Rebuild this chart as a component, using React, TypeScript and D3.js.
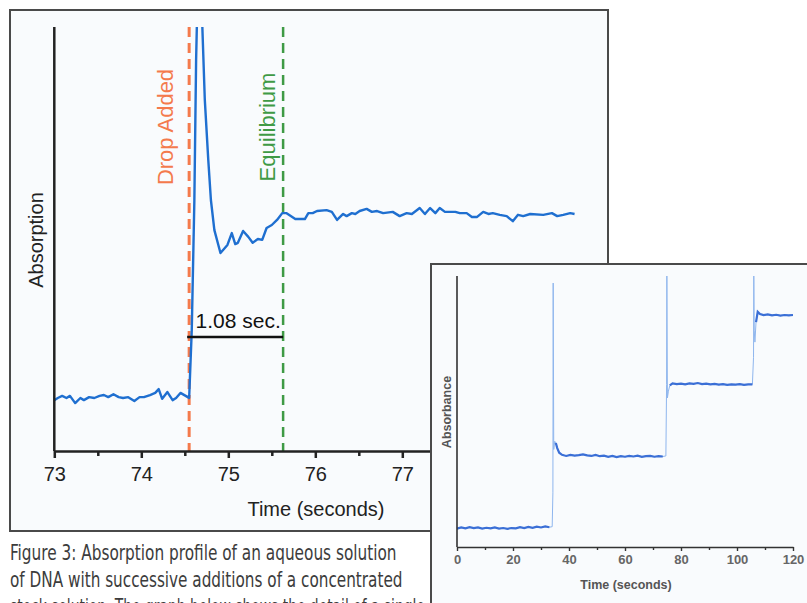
import React, { Component } from "react";
import * as d3 from "d3";

// main chart: zoom on one drop (time in seconds, absorption in arbitrary units)
const mainTime = [
	73.0, 73.04, 73.09, 73.14, 73.18, 73.24, 73.3, 73.34, 73.4, 73.46, 73.52, 73.57, 73.62, 73.68, 73.74,
	73.79, 73.85, 73.92, 73.98, 74.03, 74.1, 74.16, 74.2, 74.24, 74.3, 74.36, 74.4, 74.45, 74.51, 74.55,
	74.58, 74.61, 74.63, 74.665, 74.7, 74.73, 74.77, 74.8, 74.84, 74.91, 74.99, 75.04, 75.08, 75.11, 75.17,
	75.23, 75.28, 75.34, 75.39, 75.44, 75.5, 75.56, 75.62, 75.67, 75.77, 75.88, 75.92, 75.97, 76.02, 76.13,
	76.19, 76.25, 76.32, 76.36, 76.42, 76.46, 76.51, 76.59, 76.65, 76.71, 76.78, 76.89, 76.97, 77.05, 77.11,
	77.2, 77.26, 77.32, 77.38, 77.43, 77.49, 77.61, 77.66, 77.74, 77.8, 77.86, 77.93, 77.99, 78.04, 78.12,
	78.2, 78.27, 78.33, 78.39, 78.47, 78.62, 78.72, 78.78, 78.85, 78.93, 78.98,
];
const mainAbs = [
	12.0, 12.5, 13.0, 12.5, 13.0, 11.3, 12.5, 12.0, 12.7, 12.5, 13.0, 13.2, 12.7, 13.4, 12.7,
	12.5, 12.7, 11.8, 12.7, 12.7, 13.2, 13.7, 14.6, 12.3, 13.9, 12.0, 12.5, 13.7, 13.0, 12.5,
	28.5, 59.2, 92.2, 125, 101, 82.8, 68.6, 59.2, 52.1, 46.7, 48.6, 51.4, 48.8, 49.1, 51.9,
	50.5, 49.1, 50.0, 49.8, 52.6, 53.3, 54.5, 56.1, 56.1, 54.7, 54.7, 56.1, 56.1, 56.6, 56.8,
	56.4, 54.5, 55.9, 55.4, 56.1, 55.9, 56.6, 57.1, 56.4, 56.6, 56.1, 56.4, 55.4, 56.1, 55.9,
	57.3, 55.9, 57.3, 56.1, 57.3, 56.4, 56.4, 56.1, 56.1, 55.2, 55.2, 56.4, 55.9, 56.1, 55.7,
	55.4, 54.2, 55.7, 55.4, 55.9, 55.7, 56.1, 55.4, 55.7, 56.1, 55.9,
];
const mainTicks = [73, 74, 75, 76, 77, 78, 79];
const dropTime = 74.55;
const equilibriumTime = 75.63;
const intervalLabel = "1.08 sec.";

// inset: the whole run with three additions
const insetTime = [
	0, 1.5, 3, 4.5, 6, 7.5, 9, 10.5, 12, 13.5, 15, 16.5, 18, 19.5, 21, 22.5, 24, 25.5, 27, 28.5, 30, 31.5, 33, 34.0,
	34.25, 34.35, 34.55, 34.9, 35.3, 35.8, 36.5, 37.5, 39, 40.5, 42, 43.5, 45, 46.5, 48, 49.5, 51, 52.5, 54, 55.5,
	57, 58.5, 60, 61.5, 63, 64.5, 66, 67.5, 69, 70.5, 72, 73.5, 74.6, 74.85, 74.95, 75.15, 75.5, 76, 77, 78.5, 80,
	81.5, 83, 84.5, 86, 87.5, 89, 90.5, 92, 93.5, 95, 96.5, 98, 99.5, 101, 102.5, 104, 105.5, 105.9, 106.0, 106.15,
	106.4, 106.8, 107.4, 108.2, 109.5, 111, 112.5, 114, 115.5, 117, 118.5, 120,
];
const insetAbs = [
	6.8, 7.2, 6.9, 7.3, 7.0, 7.2, 6.8, 7.1, 6.9, 7.2, 6.8, 7.0, 6.7, 7.0, 6.9, 7.3, 7.0, 7.4, 7.1, 7.5, 7.2, 7.6, 7.3, 7.5,
	20, 97.4, 36, 39, 38.4, 36.5, 34.8, 34.0, 33.6, 34.0, 33.7, 33.9, 34.2, 33.8, 33.6, 34.0, 33.5, 33.7, 33.3, 33.6,
	33.2, 33.5, 33.3, 33.6, 33.4, 33.7, 33.3, 33.5, 33.6, 33.3, 33.5, 33.4, 33.6, 60, 100, 55, 57.5, 59.6, 60.4, 60.1, 60.3,
	60.0, 60.4, 60.2, 60.5, 60.1, 60.3, 60.0, 60.2, 59.9, 60.1, 59.8, 60.0, 59.9, 60.1, 59.8, 60.0, 60.0, 70, 100, 80,
	75.6, 83, 86.8, 86.0, 85.6, 85.8, 85.5, 85.7, 85.4, 85.6, 85.5, 85.6,
];
const insetAdditions = [34.3, 74.9, 106.0];
const insetTicks = [0, 20, 40, 60, 80, 100, 120];

const captionLines = [
	"Figure 3: Absorption profile of an aqueous solution",
	"of DNA with successive additions of a concentrated",
	"stock solution. The graph below shows the detail of a single",
];
const captionWidths = [387, 393, 415];

const FONT = "'Liberation Sans', Arial, Helvetica, sans-serif";

class App extends Component {
	svgRef = React.createRef<SVGSVGElement>();

	componentDidMount() {
		this.renderChart();
	}

	componentDidUpdate() {
		this.renderChart();
	}

	renderChart() {
		const svg = d3.select(this.svgRef.current);
		svg.selectAll("*").remove();

		// ---------- main chart ----------
		svg.append("rect")
			.attr("x", 10)
			.attr("y", 10)
			.attr("width", 598)
			.attr("height", 521)
			.attr("fill", "#f9fbfd")
			.attr("stroke", "#4a4a4a")
			.attr("stroke-width", 2);

		const x = d3.scaleLinear().domain([73, 79]).range([54.3, 576.3]);
		const y = d3.scaleLinear().domain([0, 100]).range([451, 27]);
		const main = svg.append("g");

		main.append("clipPath")
			.attr("id", "mainclip")
			.append("rect")
			.attr("x", 54)
			.attr("y", y(100))
			.attr("width", 560)
			.attr("height", y(0) - y(100));

		// dashed markers
		main.append("line")
			.attr("x1", x(dropTime))
			.attr("x2", x(dropTime))
			.attr("y1", y(100))
			.attr("y2", y(0))
			.attr("stroke", "#f47a4c")
			.attr("stroke-width", 3)
			.attr("stroke-dasharray", "10,6");
		main.append("line")
			.attr("x1", x(equilibriumTime))
			.attr("x2", x(equilibriumTime))
			.attr("y1", y(100))
			.attr("y2", y(0))
			.attr("stroke", "#3f9a45")
			.attr("stroke-width", 2.5)
			.attr("stroke-dasharray", "10,6");

		main.append("text")
			.attr("transform", `translate(${x(dropTime) - 16},127) rotate(-90)`)
			.attr("text-anchor", "middle")
			.attr("font-family", FONT)
			.attr("font-size", 22)
			.attr("fill", "#f47a4c")
			.text("Drop Added");
		main.append("text")
			.attr("transform", `translate(${x(equilibriumTime) - 8},127) rotate(-90)`)
			.attr("text-anchor", "middle")
			.attr("font-family", FONT)
			.attr("font-size", 22)
			.attr("fill", "#3f9a45")
			.text("Equilibrium");

		// absorption trace
		const mainData = mainTime.map((t, i) => [t, mainAbs[i]]);
		main.append("path")
			.datum(mainData)
			.attr("clip-path", "url(#mainclip)")
			.attr("fill", "none")
			.attr("stroke", "#1f6fd0")
			.attr("stroke-width", 2.4)
			.attr("stroke-linejoin", "round")
			.attr("d", d3.line().x((d) => x(d[0])).y((d) => y(d[1])));

		// interval bracket
		main.append("line")
			.attr("x1", x(dropTime) - 2)
			.attr("x2", x(equilibriumTime))
			.attr("y1", 337)
			.attr("y2", 337)
			.attr("stroke", "#111")
			.attr("stroke-width", 2.5);
		main.append("text")
			.attr("x", (x(dropTime) + x(equilibriumTime)) / 2 + 2)
			.attr("y", 328)
			.attr("text-anchor", "middle")
			.attr("font-family", FONT)
			.attr("font-size", 21)
			.attr("fill", "#111")
			.text(intervalLabel);

		// axes
		main.append("line")
			.attr("x1", x(73))
			.attr("x2", x(73))
			.attr("y1", y(100))
			.attr("y2", y(0))
			.attr("stroke", "#222")
			.attr("stroke-width", 2.5);

		const xAxis = main.append("g")
			.attr("transform", `translate(0,${y(0)})`)
			.call(d3.axisBottom(x).tickValues(mainTicks).tickFormat(d3.format("d")).tickSize(7).tickSizeOuter(0).tickPadding(9));
		xAxis.select(".domain").attr("stroke", "#222").attr("stroke-width", 2.5);
		xAxis.selectAll(".tick line").attr("stroke", "#222").attr("stroke-width", 2.5);
		xAxis.selectAll(".tick text").attr("font-family", FONT).attr("font-size", 20).attr("fill", "#222");

		const xMinor = main.append("g")
			.attr("transform", `translate(0,${y(0)})`)
			.call(d3.axisBottom(x).tickValues(mainTicks.slice(0, -1).map((d) => d + 0.5)).tickSize(5).tickSizeOuter(0));
		xMinor.select(".domain").remove();
		xMinor.selectAll(".tick text").remove();
		xMinor.selectAll(".tick line").attr("stroke", "#222").attr("stroke-width", 2.5);

		main.append("text")
			.attr("x", 316)
			.attr("y", 516)
			.attr("text-anchor", "middle")
			.attr("font-family", FONT)
			.attr("font-size", 20)
			.attr("fill", "#222")
			.text("Time (seconds)");
		main.append("text")
			.attr("transform", "translate(43,240) rotate(-90)")
			.attr("text-anchor", "middle")
			.attr("font-family", FONT)
			.attr("font-size", 20)
			.attr("fill", "#222")
			.text("Absorption");

		// ---------- caption (condensed by a horizontal scale) ----------
		captionLines.forEach((line, i) => {
			const g = svg.append("g");
			const txt = g.append("text")
				.attr("x", 0)
				.attr("y", 0)
				.attr("font-family", "'Liberation Sans Narrow', 'DejaVu Sans Condensed', 'Arial Narrow', sans-serif")
				.attr("font-size", 22)
				.attr("fill", "#3c3c3c")
				.text(line);
			const natural = (txt.node() as SVGTextElement).getComputedTextLength() || captionWidths[i];
			g.attr("transform", `translate(10,${560 + i * 27}) scale(${captionWidths[i] / natural},1)`);
		});

		// ---------- inset ----------
		svg.append("rect")
			.attr("x", 431)
			.attr("y", 264)
			.attr("width", 400)
			.attr("height", 400)
			.attr("fill", "#f9fbfd")
			.attr("stroke", "#4a4a4a")
			.attr("stroke-width", 2);

		const ix = d3.scaleLinear().domain([0, 120]).range([457, 793]);
		const iy = d3.scaleLinear().domain([0, 100]).range([547, 276]);
		const inset = svg.append("g");

		const insetData = insetTime.map((t, i) => [t, insetAbs[i]]);
		const insetLine = d3.line().x((d) => ix(d[0])).y((d) => iy(d[1]));
		inset.append("path")
			.datum(insetData)
			.attr("fill", "none")
			.attr("stroke", "#8fb6ee")
			.attr("stroke-width", 1)
			.attr("d", insetLine);
		const steady = (d) => !insetAdditions.some((s) => d[0] > s - 0.4 && d[0] < s + 0.7);
		inset.append("path")
			.datum(insetData)
			.attr("fill", "none")
			.attr("stroke", "#3b6fd6")
			.attr("stroke-width", 2.2)
			.attr("d", d3.line().defined(steady).x((d) => ix(d[0])).y((d) => iy(d[1])));

		inset.append("line")
			.attr("x1", ix(0))
			.attr("x2", ix(0))
			.attr("y1", iy(100))
			.attr("y2", iy(0))
			.attr("stroke", "#333")
			.attr("stroke-width", 1.6);

		const ixAxis = inset.append("g")
			.attr("transform", `translate(0,${iy(0)})`)
			.call(d3.axisBottom(ix).tickValues(insetTicks).tickSize(4).tickSizeOuter(0).tickPadding(4));
		ixAxis.select(".domain").attr("stroke", "#333").attr("stroke-width", 1.6);
		ixAxis.selectAll(".tick line").attr("stroke", "#333").attr("stroke-width", 1.4);
		ixAxis.selectAll(".tick text")
			.attr("font-family", FONT)
			.attr("font-size", 13)
			.attr("font-weight", "bold")
			.attr("fill", "#666");

		const ixMinor = inset.append("g")
			.attr("transform", `translate(0,${iy(0)})`)
			.call(d3.axisBottom(ix).tickValues(insetTicks.slice(0, -1).map((d) => d + 10)).tickSize(3).tickSizeOuter(0));
		ixMinor.select(".domain").remove();
		ixMinor.selectAll(".tick text").remove();
		ixMinor.selectAll(".tick line").attr("stroke", "#333").attr("stroke-width", 1.4);

		inset.append("text")
			.attr("x", 626)
			.attr("y", 589)
			.attr("text-anchor", "middle")
			.attr("font-family", FONT)
			.attr("font-size", 12.5)
			.attr("font-weight", "bold")
			.attr("fill", "#555")
			.text("Time (seconds)");
		inset.append("text")
			.attr("transform", "translate(451,412) rotate(-90)")
			.attr("text-anchor", "middle")
			.attr("font-family", FONT)
			.attr("font-size", 12.5)
			.attr("font-weight", "bold")
			.attr("fill", "#555")
			.text("Absorbance");
	}

	render() {
		return (
			<div style={{ position: "absolute", left: 0, top: 0 }}>
				<svg ref={this.svgRef} width={807} height={603} style={{ display: "block", background: "#fff" }}></svg>
			</div>
		);
	}
}

export default App;
